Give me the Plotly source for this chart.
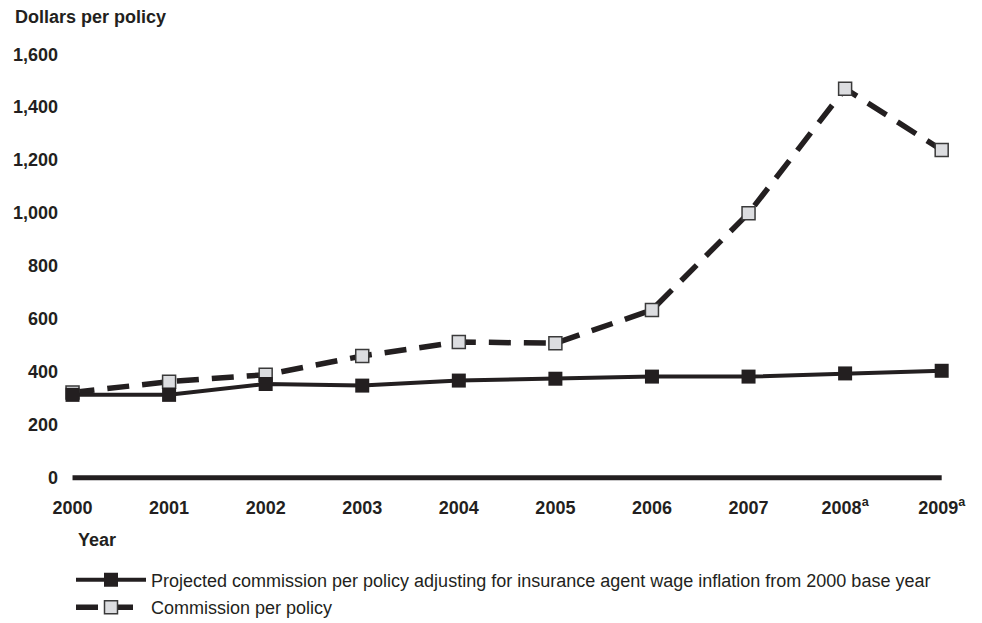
import plotly.graph_objects as go

years = [2000, 2001, 2002, 2003, 2004, 2005, 2006, 2007, 2008, 2009]
tick_labels = ["2000", "2001", "2002", "2003", "2004", "2005", "2006", "2007",
               "2008<sup>a</sup>", "2009<sup>a</sup>"]
commission = [322, 363, 389, 460, 513, 508, 634, 999, 1470, 1238]
projected = [313, 313, 354, 348, 367, 374, 382, 382, 394, 404]
y_ticks = [0, 200, 400, 600, 800, 1000, 1200, 1400, 1600]

name_proj = "Projected commission per policy adjusting for insurance agent wage inflation from 2000 base year"
name_comm = "Commission per policy"

INK = "#231f20"
FONT = "Liberation Sans, Arial, Helvetica, sans-serif"
FS = 18

fig = go.Figure()

fig.add_trace(go.Scatter(
    x=years, y=commission, name=name_comm, mode="lines+markers",
    line=dict(color=INK, width=5.5, dash="22px,13px"),
    marker=dict(symbol="square", size=13, color="#dcdde0",
                line=dict(color="#3a3a3a", width=1.5)),
    legendgroup="b", legendrank=2, cliponaxis=False,
))
fig.add_trace(go.Scatter(
    x=years, y=projected, name=name_proj, mode="lines+markers",
    line=dict(color=INK, width=4),
    marker=dict(symbol="square", size=14, color=INK, line=dict(width=0)),
    legendgroup="a", legendrank=1, cliponaxis=False,
))

# zero baseline spanning the data years
fig.add_shape(type="line", xref="x", yref="y", x0=years[0], x1=years[-1], y0=0, y1=0,
              line=dict(color=INK, width=5), layer="below")

fig.update_layout(
    width=982, height=623,
    margin=dict(l=59, r=21, t=41, b=140, autoexpand=False),
    paper_bgcolor="white", plot_bgcolor="white",
    font=dict(family=FONT, color=INK, size=FS),
    showlegend=True,
    legend=dict(
        x=(71 - 59) / 902, xanchor="left",
        y=(483.3 - 562) / 442.55, yanchor="top",
        itemwidth=70,
        font=dict(family=FONT, size=FS, color=INK),
        tracegroupgap=1, traceorder="grouped",
        bgcolor="rgba(0,0,0,0)", borderwidth=0,
    ),
    xaxis=dict(
        range=[1999.86, 2009.2], tickmode="array", tickvals=years, ticktext=tick_labels,
        showgrid=False, zeroline=False, showline=False,
        ticks="outside", ticklen=8, tickcolor="rgba(0,0,0,0)",
        tickfont=dict(family=FONT, size=FS, color=INK, weight="bold"),
    ),
    yaxis=dict(
        range=[-20, 1650], tickmode="array", tickvals=y_ticks,
        tickformat=",", showgrid=False, zeroline=False, showline=False,
        tickfont=dict(family=FONT, size=FS, color=INK, weight="bold"),
    ),
    annotations=[
        dict(text="<b>Dollars per policy</b>", xref="paper", yref="paper",
             x=(12.7 - 59) / 902, y=(483.3 - 17) / 442.55, xanchor="left", yanchor="middle",
             showarrow=False, font=dict(family=FONT, size=FS, color=INK)),
        dict(text="<b>Year</b>", xref="paper", yref="paper",
             x=(75.7 - 59) / 902, y=(483.3 - 540) / 442.55, xanchor="left", yanchor="middle",
             showarrow=False, font=dict(family=FONT, size=FS, color=INK)),
    ],
)

fig.write_html("out.html", config={"displayModeBar": False},
               post_script="document.body.style.margin='0';")
